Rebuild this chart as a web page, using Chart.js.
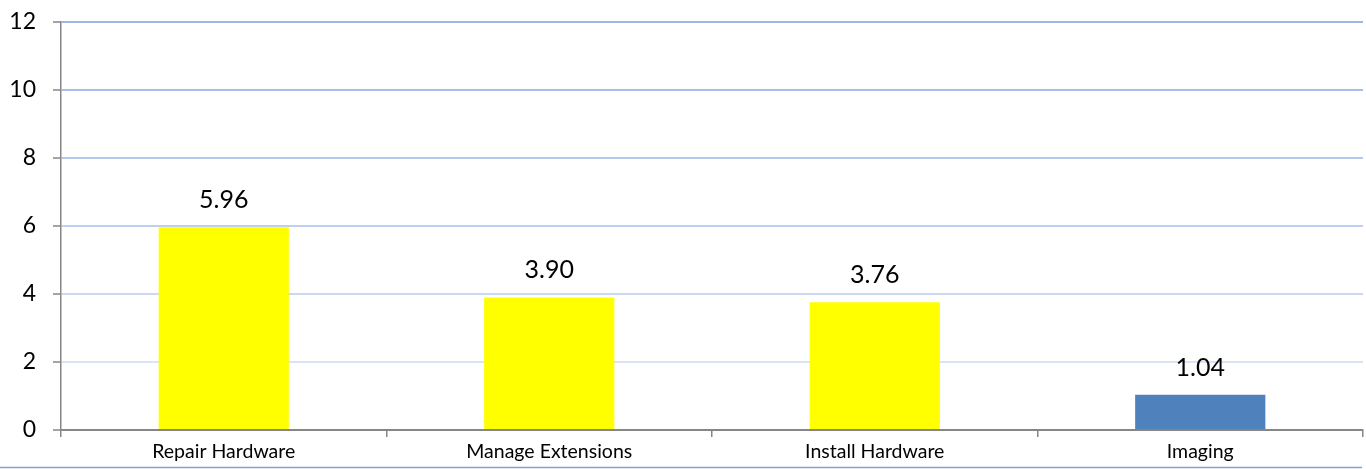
<!DOCTYPE html>
<html><head><meta charset="utf-8">
<script src="https://cdn.jsdelivr.net/npm/chart.js@4.4.0/dist/chart.umd.min.js"></script>
<style>html,body{margin:0;padding:0;background:#fff;}#wrap{width:1366px;height:469px;position:relative;}</style>
</head><body><div id="wrap"><canvas id="c" width="1366" height="469"></canvas></div>
<script>
const categories = ["Repair Hardware", "Manage Extensions", "Install Hardware", "Imaging"];
const values = [5.96, 3.90, 3.76, 1.04];
const barColors = ["#ffff00", "#ffff00", "#ffff00", "#4f81bd"];
const yTicks = [0, 2, 4, 6, 8, 10, 12];
const gridColors = ["#868686", "#dae4f4", "#cbd8f1", "#bfcfee", "#b4c7ec", "#a9bfe9", "#9db6e6"];

const labelPlugin = {
  id: 'labels',
  afterDatasetsDraw(chart) {
    const ctx = chart.ctx;
    const meta = chart.getDatasetMeta(0);
    ctx.save();
    ctx.font = '25px Lato, sans-serif';
    ctx.fillStyle = '#000';
    ctx.textAlign = 'center';
    ctx.textBaseline = 'middle';
    meta.data.forEach((bar, i) => {
      ctx.fillText(values[i].toFixed(2), bar.x, bar.y - 27);
    });
    ctx.restore();
  },
  afterDraw(chart) {
    const ctx = chart.ctx;
    ctx.save();
    ctx.strokeStyle = '#7fa3d6';
    ctx.lineWidth = 1.5;
    ctx.beginPath();
    ctx.moveTo(0, 467.5);
    ctx.lineTo(1362, 467.5);
    ctx.stroke();
    ctx.restore();
  }
};

new Chart(document.getElementById('c'), {
  type: 'bar',
  data: {
    labels: categories,
    datasets: [{ data: values, backgroundColor: barColors, barPercentage: 0.4, categoryPercentage: 1.0 }]
  },
  options: {
    responsive: false,
    animation: false,
    layout: { padding: { top: 22, right: 3, left: 0, bottom: 0 } },
    plugins: { legend: { display: false }, tooltip: { enabled: false } },
    scales: {
      x: {
        offset: true,
        grid: { offset: true, drawOnChartArea: false, drawTicks: true, tickLength: 7, color: '#868686', lineWidth: 1.5 },
        border: { color: '#868686', width: 1.5 },
        ticks: { font: { family: 'Lato, sans-serif', size: 19.5 }, color: '#000', padding: 3, maxRotation: 0 },
        afterFit(s) { s.height = 39; s.paddingLeft = 0; s.paddingRight = 0; }
      },
      y: {
        min: 0, max: 12,
        afterBuildTicks(s) { s.ticks = yTicks.map(v => ({ value: v })); },
        grid: { color: (c) => gridColors[c.index] || '#a9c0e8', lineWidth: 2, tickLength: 8, tickColor: '#868686', tickWidth: 1.5 },
        border: { color: '#868686', width: 1.5 },
        ticks: { font: { family: 'Lato, sans-serif', size: 23 }, color: '#000', padding: 17 },
        afterFit(s) { s.width = 61; s.paddingTop = 0; s.paddingBottom = 0; }
      }
    }
  },
  plugins: [labelPlugin]
});
</script></body></html>
